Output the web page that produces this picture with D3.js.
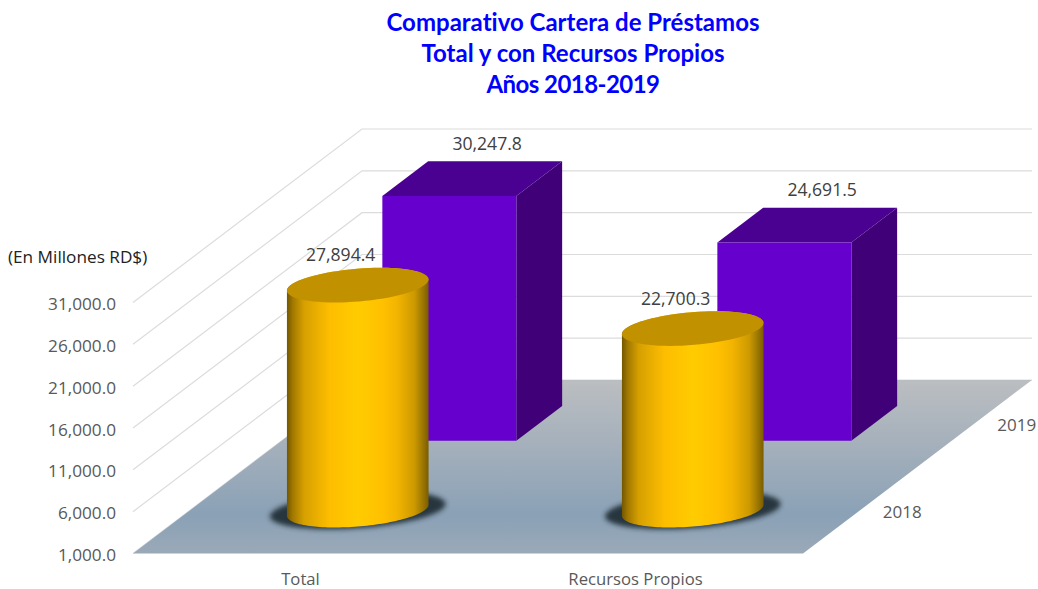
<!DOCTYPE html>
<html><head><meta charset="utf-8">
<script src="https://cdnjs.cloudflare.com/ajax/libs/d3/7.8.5/d3.min.js"></script>
<style>html,body{margin:0;padding:0;background:#fff}svg{display:block}text{font-variant-ligatures:none}</style>
</head><body><svg id="c" width="1038" height="589"></svg>
<script>
const titleLines = ["Comparativo Cartera de Préstamos","Total y con Recursos Propios","Años 2018-2019"];
const unitLabel = "(En Millones RD$)";
const categories = ["Total","Recursos Propios"];
const years = ["2018","2019"];
const values2018 = [27894.4,22700.3];
const values2019 = [30247.8,24691.5];
const valueTicks = [1000,6000,11000,16000,21000,26000,31000];

const svg = d3.select("#c");
const labelFont = "'Open Sans',sans-serif";
const fmt = d3.format(",.1f");

// oblique 3D projection built from linear scales
const uX = d3.scaleLinear().domain([0,2]).range([133,803]);
const wX = d3.scaleLinear().domain([0,2]).range([0,229]);
const wY = d3.scaleLinear().domain([0,2]).range([553.5,380]);
const vH = d3.scaleLinear().domain([1000,31000]).range([0,251]);
const P = (u,w,v=1000)=>[uX(u)+wX(w), wY(w)-vH(v)];
const line = d3.line();

const defs = svg.append("defs");
const floorG = defs.append("linearGradient").attr("id","floor").attr("x1",0).attr("x2",0).attr("y1",0).attr("y2",1);
[[0,"#bbbec1"],[0.4,"#a3afbb"],[0.78,"#8aa1b6"],[1,"#9aa9b8"]].forEach(s=>floorG.append("stop").attr("offset",s[0]).attr("stop-color",s[1]));
const cylG = defs.append("linearGradient").attr("id","cyl").attr("x1",0).attr("x2",1).attr("y1",0).attr("y2",0);
[[0,"#735600"],[0.04,"#a07800"],[0.12,"#d6a000"],[0.3,"#fdbd00"],[0.5,"#ffcc00"],[0.68,"#ffc000"],[0.78,"#f2b400"],[0.9,"#cc9900"],[0.97,"#937000"],[1,"#7a5c00"]].forEach(s=>cylG.append("stop").attr("offset",s[0]).attr("stop-color",s[1]));
defs.append("filter").attr("id","blur").attr("x","-20%").attr("y","-50%").attr("width","140%").attr("height","200%")
  .append("feGaussianBlur").attr("stdDeviation",2.8);

// grid
const grid = svg.append("g").attr("stroke","#dcdcdc").attr("stroke-width",1.2).attr("fill","none");
valueTicks.forEach(v=>{
  grid.append("path").attr("d",line([P(0,0,v),P(0,2,v),P(2,2,v)]));
});

// floor
svg.append("path").attr("d",line([P(0,0),P(2,0),P(2,2),P(0,2)])+"Z").attr("fill","url(#floor)");

// boxes (2019)
const halfU=0.2, halfW=0.2;
values2019.forEach((v,i)=>{
  const u=i+0.5, w=1.5, a=u-halfU, b=u+halfU, f=w-halfW, k=w+halfW;
  const g=svg.append("g");
  g.append("path").attr("d",line([P(b,f),P(b,k),P(b,k,v),P(b,f,v)])+"Z").attr("fill","#3f0078");
  g.append("path").attr("d",line([P(a,f,v),P(b,f,v),P(b,k,v),P(a,k,v)])+"Z").attr("fill","#4a0091");
  g.append("path").attr("d",line([P(a,f),P(b,f),P(b,f,v),P(a,f,v)])+"Z").attr("fill","#6600cc");
  const top=P(u,k,v);
  svg.append("text").attr("x",top[0]-8).attr("y",top[1]-11.5).attr("text-anchor","middle")
    .attr("font-family",labelFont).attr("font-size",17.6).attr("fill","#404040").text(fmt(v));
});

// cylinders (2018)
function ellipse(u,w,v,sx=1,sy=1,t0=0,t1=2*Math.PI){
  const c=P(u,w,v);
  const ax=uX(u+halfU)-uX(u), bx=wX(w+halfW)-wX(w), by=wY(w)-wY(w+halfW);
  return d3.range(0,73).map(n=>{
    const t=t0+(t1-t0)*n/72;
    return [c[0]+sx*(ax*Math.cos(t)+bx*Math.sin(t)), c[1]-sy*by*Math.sin(t)];
  });
}
values2018.forEach((v,i)=>{
  const u=i+0.5,w=0.5;
  const ax=uX(u+halfU)-uX(u), bx=wX(w+halfW)-wX(w);
  const a=Math.atan2(bx,ax);
  svg.append("path").attr("d",line(ellipse(u,w,1000,1.24,1.1))+"Z").attr("fill","#1f2b35").attr("fill-opacity",0.92).attr("filter","url(#blur)");
  const lower=ellipse(u,w,1000,1,1,Math.PI+a,2*Math.PI+a);
  const upper=ellipse(u,w,v,1,1,a,Math.PI+a);
  svg.append("path").attr("d",line(lower.concat(upper))+"Z").attr("fill","url(#cyl)");
  svg.append("path").attr("d",line(ellipse(u,w,v))+"Z").attr("fill","#c19100");
  const top=P(u,w+halfW,v);
  svg.append("text").attr("x",top[0]-40).attr("y",top[1]-6.5).attr("text-anchor","middle")
    .attr("font-family",labelFont).attr("font-size",17.6).attr("fill","#404040").text(fmt(v));
});

// value axis
const yAxisScale = d3.scaleLinear().domain([1000,31000]).range([555,555-251]);
const yAxis = svg.append("g").attr("transform","translate(123,0)")
  .call(d3.axisLeft(yAxisScale).tickValues(valueTicks).tickFormat(fmt).tickSize(0).tickPadding(7));
yAxis.select(".domain").remove();
yAxis.selectAll("text").attr("font-family",labelFont).attr("font-size",17.2).attr("fill","#595959");

// category axis
const xAxisScale = d3.scaleBand().domain(categories).range([133,803]);
const xAxis = svg.append("g").attr("transform","translate(0,565)")
  .call(d3.axisBottom(xAxisScale).tickSize(0).tickPadding(8));
xAxis.select(".domain").remove();
xAxis.selectAll("text").attr("font-family",labelFont).attr("font-size",16.7).attr("fill","#595959");

// depth axis
years.forEach((y,i)=>{
  const p=P(2,i+0.5);
  svg.append("text").attr("x",p[0]+42).attr("y",p[1]+8).attr("text-anchor","middle")
    .attr("font-family",labelFont).attr("font-size",17).attr("fill","#595959").text(y);
});

// unit label
svg.append("text").attr("x",8).attr("y",263).attr("font-family",labelFont).attr("font-size",17.2).attr("fill","#222").text(unitLabel);

// title
const titleY=d3.scalePoint().domain(titleLines).range([31,93]);
titleLines.forEach((t,i)=>{
  svg.append("text").attr("x",573).attr("y",titleY(t)).attr("text-anchor","middle")
    .attr("letter-spacing",i===2?-0.55:0)
    .attr("font-family","Lato,sans-serif").attr("font-weight",700).attr("font-size",24).attr("fill","#0000ff").text(t);
});
</script></body></html>
